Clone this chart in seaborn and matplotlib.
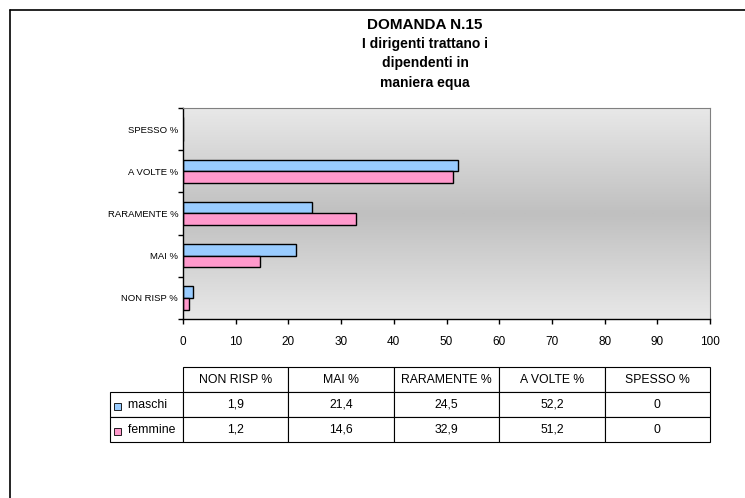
import numpy as np
import pandas as pd
import seaborn as sns
import matplotlib.pyplot as plt
from matplotlib.colors import LinearSegmentedColormap
from matplotlib.lines import Line2D
from matplotlib.patches import Rectangle

categories = ['NON RISP %', 'MAI %', 'RARAMENTE %', 'A VOLTE %', 'SPESSO %']
maschi = [1.9, 21.4, 24.5, 52.2, 0]
femmine = [1.2, 14.6, 32.9, 51.2, 0]
maschi_txt = ['1,9', '21,4', '24,5', '52,2', '0']
femmine_txt = ['1,2', '14,6', '32,9', '51,2', '0']
groups = ['maschi', 'femmine']
colors = ['#99ccff', '#ff99cc']

df = pd.DataFrame({
    'cat': categories * 2,
    'val': maschi + femmine,
    'sex': ['maschi'] * 5 + ['femmine'] * 5,
})

sns.set_style('white')
plt.rcParams['font.family'] = ['Liberation Sans', 'DejaVu Sans']
plt.rcParams['text.color'] = 'black'
plt.rcParams['xtick.color'] = 'black'
plt.rcParams['ytick.color'] = 'black'
plt.rcParams['xtick.labelcolor'] = 'black'
plt.rcParams['ytick.labelcolor'] = 'black'

fig = plt.figure(figsize=(7.45, 4.98), dpi=100)
W, H = 745, 498
ax = fig.add_axes([183 / W, 1 - 319 / H, 527 / W, 211 / H])

# gradient background
grad = np.abs(np.linspace(-1, 1, 200))[:, None]
cmap = LinearSegmentedColormap.from_list('g', ['#c0c0c0', '#e8e8e8'])
ax.imshow(grad, extent=[0, 100, -0.5, 4.5], aspect='auto', cmap=cmap, zorder=0)

sns.barplot(data=df, y='cat', x='val', hue='sex', order=categories[::-1],
            hue_order=groups, palette=colors, width=0.55, edgecolor='black',
            linewidth=1, saturation=1, ax=ax, zorder=2, legend=False)

ax.set_xlim(0, 100)
ax.set_ylim(4.5, -0.5)
ax.set_xticks(range(0, 101, 10))
ax.set_yticks(np.arange(-0.5, 4.6, 1), minor=False)
ax.set_yticklabels([])
ax.set_yticks(range(5), minor=True)
ax.set_yticklabels(categories[::-1], minor=True)
ax.tick_params(axis='y', which='minor', length=0, pad=3.5, labelsize=6.8)
ax.tick_params(axis='y', which='major', length=3.5, direction='out', width=1, left=True)
ax.tick_params(axis='x', length=3.5, direction='out', width=1, labelsize=8.5, pad=8.5, bottom=True)
ax.set_xlabel('')
ax.set_ylabel('')
for s in ['top', 'right']:
    ax.spines[s].set_color('#808080')
for s in ['left', 'bottom']:
    ax.spines[s].set_color('black')
    ax.spines[s].set_linewidth(1)

# title
fig.text(425 / W, 1 - 25 / H, 'DOMANDA N.15', ha='center', va='center',
         fontsize=11, fontweight='bold')
for i, line in enumerate(['I dirigenti trattano i', 'dipendenti in', 'maniera equa']):
    fig.text(425 / W, 1 - (44 + 19.5 * i) / H, line, ha='center', va='center',
             fontsize=10, fontweight='bold')

# data table
tax = fig.add_axes([110 / W, 1 - 442 / H, 600 / W, 75 / H])
tax.axis('off')
cell_text = [[''] + categories,
             ['     maschi'] + maschi_txt,
             ['     femmine'] + femmine_txt]
first_w = 73 / 600
col_w = [first_w] + [(1 - first_w) / 5] * 5
tbl = tax.table(cellText=cell_text, colWidths=col_w, bbox=[0, 0, 1, 1],
                cellLoc='center')
tbl.auto_set_font_size(False)
tbl.set_fontsize(8.8)
for (r, c), cell in tbl.get_celld().items():
    cell.set_linewidth(0.8)
    cell.set_edgecolor('black')
    cell.get_text().set_color('black')
    if c == 0:
        cell.get_text().set_ha('left')
        cell._loc = 'left'
        cell.PAD = 0.02
# header corner: no border
tbl[0, 0].visible_edges = ''

# legend keys in row labels
for i, col in enumerate(colors):
    yc = 1 - (406.5 + 24.5 * i) / H
    fig.patches.append(Rectangle((114 / W, yc - 3.5 / H), 7 / W, 7 / H,
                                 transform=fig.transFigure, facecolor=col,
                                 edgecolor='black', linewidth=0.6))

# outer frame
fig.lines.append(Line2D([10 / W, 1], [1 - 10 / H, 1 - 10 / H],
                        transform=fig.transFigure, color='black', linewidth=1.2))
fig.lines.append(Line2D([10 / W, 10 / W], [0, 1 - 10 / H],
                        transform=fig.transFigure, color='black', linewidth=1.2))

fig.savefig('out.png', dpi=100)
